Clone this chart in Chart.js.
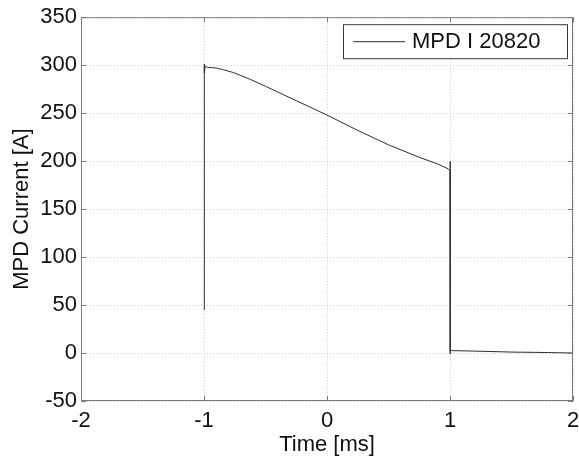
<!DOCTYPE html>
<html>
<head>
<meta charset="utf-8">
<script src="https://cdn.jsdelivr.net/npm/chart.js@4/dist/chart.umd.min.js"></script>
<style>
  html, body { margin: 0; padding: 0; background: #fff; }
  #wrap { width: 579px; height: 460px; }
</style>
</head>
<body>
<div id="wrap"><canvas id="chart" width="579" height="460"></canvas></div>
<script>
// trace data
const timeMs = [-1.0, -1.0, -0.995, -0.99, -0.97, -0.94, -0.9, -0.85, -0.76, -0.62, -0.5, -0.25, 0, 0.25, 0.5, 0.75, 0.9, 0.985, 1.0, 1.0, 1.0, 1.005, 1.02, 1.2, 1.5, 1.8, 2.0];
const currentA = [45, 301, 292, 299, 297.5, 297.5, 297, 295.5, 292.3, 285, 278, 263, 248, 232, 217, 204, 197, 192, 190, 200, -1, 3, 2.5, 2, 1, 0.5, 0];
const seriesLabel = 'MPD I 20820';
const xTicks = [-2, -1, 0, 1, 2];
const yTicks = [-50, 0, 50, 100, 150, 200, 250, 300, 350];

const FONT = 'Liberation Sans, Arial, Helvetica, sans-serif';
const LINE = '#2e2e2e';

// box around axes, inside ticks on all sides, legend box (matlab look)
const matlabBox = {
    id: 'matlabBox',
    afterDatasetsDraw(chart) {
        const { ctx, chartArea: a, scales } = chart;
        ctx.save();
        ctx.strokeStyle = '#7a7a7a';
        ctx.lineWidth = 1;
        ctx.strokeRect(a.left + 0.5, a.top + 0.5, a.right - a.left - 1, a.bottom - a.top - 1);

        // tick marks pointing inward
        const tl = 5;
        ctx.beginPath();
        xTicks.forEach(v => {
            const px = Math.round(scales.x.getPixelForValue(v)) + 0.5;
            ctx.moveTo(px, a.bottom); ctx.lineTo(px, a.bottom - tl);
            ctx.moveTo(px, a.top); ctx.lineTo(px, a.top + tl);
        });
        yTicks.forEach(v => {
            const py = Math.round(scales.y.getPixelForValue(v)) + 0.5;
            ctx.moveTo(a.left, py); ctx.lineTo(a.left + tl, py);
            ctx.moveTo(a.right, py); ctx.lineTo(a.right - tl, py);
        });
        ctx.stroke();

        // legend
        const bx = a.right - 230, by = a.top + 7, bw = 224, bh = 34;
        ctx.fillStyle = '#fff';
        ctx.fillRect(bx, by, bw, bh);
        ctx.strokeStyle = '#3a3a3a';
        ctx.strokeRect(bx + 0.5, by + 0.5, bw, bh);
        ctx.strokeStyle = LINE;
        ctx.beginPath();
        ctx.moveTo(bx + 10, by + bh / 2 + 0.5);
        ctx.lineTo(bx + 62, by + bh / 2 + 0.5);
        ctx.stroke();
        ctx.fillStyle = '#111';
        ctx.font = '22px ' + FONT;
        ctx.textBaseline = 'middle';
        ctx.textAlign = 'left';
        ctx.fillText(seriesLabel, bx + 69, by + bh / 2 + 1);
        ctx.restore();
    }
};

const ctx = document.getElementById('chart');

new Chart(ctx, {
    type: 'line',
    data: {
        datasets: [
            {
                label: seriesLabel,
                data: timeMs.map((t, i) => ({ x: t, y: currentA[i] })),
                borderColor: LINE,
                borderWidth: 1,
                pointRadius: 0,
                tension: 0,
                fill: false,
            },
        ],
    },
    options: {
        responsive: false,
        animation: false,
        devicePixelRatio: 1,
        layout: { padding: { left: 0, right: 6, top: 17, bottom: 0 } },
        plugins: {
            legend: { display: false },
            tooltip: { enabled: false },
        },
        scales: {
            x: {
                type: 'linear',
                min: -2,
                max: 2,
                afterBuildTicks: (s) => { s.ticks = xTicks.map(v => ({ value: v })); },
                afterFit: (s) => { s.height = 59; s.paddingLeft = 0; s.paddingRight = 0; },
                ticks: { color: '#111', font: { family: FONT, size: 22 }, padding: 7, maxRotation: 0 },
                grid: { color: '#cdcdcd', lineWidth: 1, drawTicks: false },
                border: { display: false, dash: [1, 2] },
                title: { display: true, text: 'Time [ms]', color: '#111', font: { family: FONT, size: 22 }, padding: { top: 0, bottom: 2 } },
            },
            y: {
                type: 'linear',
                min: -50,
                max: 350,
                afterBuildTicks: (s) => { s.ticks = yTicks.map(v => ({ value: v })); },
                afterFit: (s) => { s.width = 81; },
                ticks: { color: '#111', font: { family: FONT, size: 22 }, padding: 4 },
                grid: { color: '#cdcdcd', lineWidth: 1, drawTicks: false },
                border: { display: false, dash: [1, 2] },
                title: { display: true, text: 'MPD Current [A]', color: '#111', font: { family: FONT, size: 22 }, padding: { top: 9, bottom: 0 } },
            },
        },
    },
    plugins: [matlabBox],
});
</script>
</body>
</html>
